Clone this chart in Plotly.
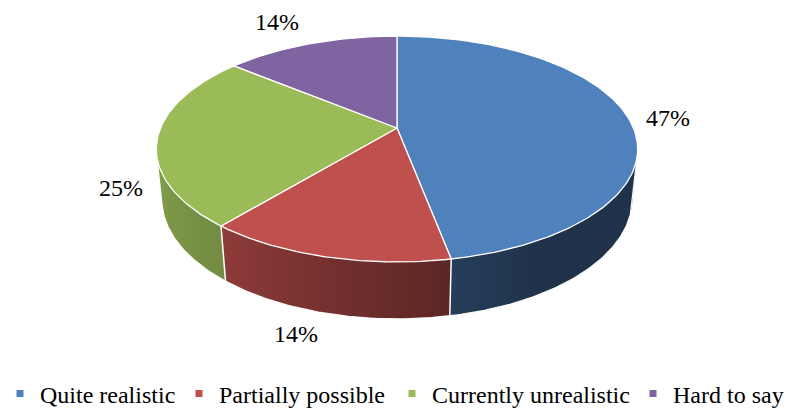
import numpy as np
import plotly.graph_objects as go

# ---- data ----
categories = ["Quite realistic", "Partially possible", "Currently unrealistic", "Hard to say"]
values = [47, 14, 25, 14]
label_texts = ["47%", "14%", "25%", "14%"]

# ---- styles ----
colors = ["#4F81BD", "#C0504D", "#9BBB59", "#8064A2"]
label_shift = [(13, -23), (-19, 27), (-8, 23), (-25, -34)]   # px nudges of data labels
legend_widths = [134, 168, 196, 117]
FONT = "Times New Roman"

W, H = 794, 409
CX, CY = 397, 128            # apex of the pie in pixels
XS = 0.985                   # horizontal squeeze of the projection
ELEV = np.radians(27)
S, C = np.sin(ELEV), np.cos(ELEV)
D, F, T = 4.79, 1150.0, 0.237  # camera distance, focal length, thickness


def proj(X, Y, Z):
    X, Y, Z = np.asarray(X, float), np.asarray(Y, float), np.asarray(Z, float)
    dist = D - (Y * C + Z * S)
    sx = XS * X * F / dist
    sy = (-Y * S + Z * C) * F / dist
    return CX + sx, CY - sy


def rim(phi_deg, r=1.0):
    p = np.radians(phi_deg)
    return r * np.sin(p), -r * np.cos(p)


def hex_rgb(h):
    h = h.lstrip("#")
    return [int(h[i:i + 2], 16) for i in (0, 2, 4)]


def shade(hexcol, k):
    r, g, b = hex_rgb(hexcol)
    return "rgb(%d,%d,%d)" % (round(r * k), round(g * k), round(b * k))


def side_k(phi):
    return float(np.interp(phi, [103, 150, 172, 220, 256], [0.385, 0.39, 0.49, 0.745, 0.84]))


total = float(sum(values))
bounds = np.concatenate([[0], np.cumsum(values) / total * 360.0])

# visible part of the outer wall (silhouette of the cylinder)
PHI_VIS = np.degrees(np.arccos(-1.0 / (D * C)))
VIS0, VIS1 = PHI_VIS, 360.0 - PHI_VIS

fig = go.Figure()

# ---- side walls with horizontal gradients ----
for i in range(len(values)):
    a0, a1 = max(bounds[i], VIS0), min(bounds[i + 1], VIS1)
    if a1 <= a0:
        continue
    arc = np.linspace(a0, a1, 80)
    ax, ay = rim(arc)
    tx, ty = proj(ax, ay, np.zeros_like(ax))
    bx, by = proj(ax, ay, np.full_like(ax, -T))
    px = np.concatenate([tx, bx[::-1], tx[:1]])
    py = np.concatenate([ty, by[::-1], ty[:1]])
    xmin, xmax = px.min(), px.max()
    samp = np.linspace(a0, a1, 24)
    sx_, sy_ = rim(samp)
    mx, _ = proj(sx_, sy_, np.full_like(sx_, -T / 2))
    pos = (mx - xmin) / (xmax - xmin)
    order = np.argsort(pos)
    pos = np.clip(pos[order], 0, 1)
    cols = [shade(colors[i], side_k(p)) for p in samp[order]]
    pos[0], pos[-1] = 0.0, 1.0
    cscale = [[float(p), c] for p, c in zip(pos, cols)]
    fig.add_trace(go.Scatter(x=px, y=py, mode="lines", fill="toself",
                             fillcolor=cols[len(cols) // 2],
                             fillgradient=dict(type="horizontal", colorscale=cscale),
                             line=dict(width=0), hoverinfo="skip", showlegend=False))

# white outline of the wall: silhouettes and bottom rim
arc = np.linspace(VIS0, VIS1, 240)
ax, ay = rim(arc)
bx, by = proj(ax, ay, np.full_like(ax, -T))
t0x, t0y = proj(*rim(VIS0), 0.0)
t1x, t1y = proj(*rim(VIS1), 0.0)
ox = np.concatenate([[t0x], bx, [t1x]])
oy = np.concatenate([[t0y], by, [t1y]])
fig.add_trace(go.Scatter(x=ox, y=oy, mode="lines", line=dict(color="rgba(255,255,255,0.95)", width=1.3),
                         hoverinfo="skip", showlegend=False))
for b in bounds[1:-1]:
    if VIS0 < b < VIS1:
        xb, yb = rim(b)
        px, py = proj([xb, xb], [yb, yb], [0, -T])
        fig.add_trace(go.Scatter(x=px, y=py, mode="lines", line=dict(color="white", width=1.5),
                                 hoverinfo="skip", showlegend=False))

# ---- top faces ----
for i in range(len(values)):
    a0, a1 = bounds[i], bounds[i + 1]
    arc = np.linspace(a0, a1, max(int((a1 - a0) / 1.0), 2) + 1)
    ax, ay = rim(arc)
    X = np.concatenate([[0], ax, [0]])
    Y = np.concatenate([[0], ay, [0]])
    px, py = proj(X, Y, np.zeros_like(X))
    fig.add_trace(go.Scatter(x=px, y=py, mode="lines", fill="toself", fillcolor=colors[i],
                             line=dict(color="white", width=1.3), hoverinfo="skip", showlegend=False))

# ---- data labels ----
for i in range(len(values)):
    mid = 0.5 * (bounds[i] + bounds[i + 1])
    lx, ly = rim(mid, 1.13)
    px, py = proj(lx, ly, -T / 2)
    dx, dy = label_shift[i]
    fig.add_annotation(x=float(px), y=float(py), text=label_texts[i], showarrow=False,
                       xshift=dx, yshift=-dy, font=dict(family=FONT, size=24, color="black"))

# ---- legend entries ----
for i, name in enumerate(categories):
    fig.add_trace(go.Scatter(x=[None], y=[None], mode="markers", name=name,
                             marker=dict(symbol="square", size=7, color=colors[i]),
                             legendwidth=legend_widths[i]))

fig.update_layout(
    width=W, height=H,
    margin=dict(l=0, r=0, t=0, b=0, autoexpand=False),
    paper_bgcolor="white", plot_bgcolor="white",
    xaxis=dict(range=[0, W], visible=False, fixedrange=True),
    yaxis=dict(range=[H, 0], visible=False, fixedrange=True),
    showlegend=True,
    legend=dict(orientation="h", x=0, xanchor="left", y=(H - 394) / H, yanchor="middle",
                font=dict(family=FONT, size=24, color="black"), bgcolor="rgba(0,0,0,0)",
                tracegroupgap=0),
)

fig.write_html("out.html")
